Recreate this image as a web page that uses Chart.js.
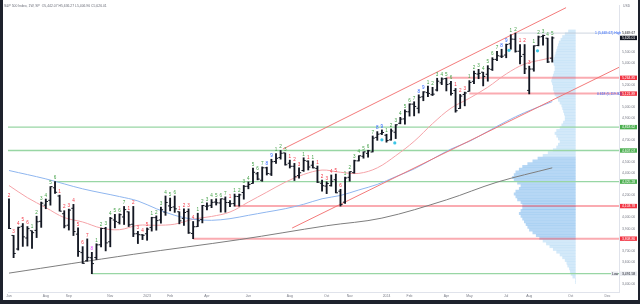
<!DOCTYPE html>
<html>
<head>
<meta charset="utf-8">
<script src="https://cdn.jsdelivr.net/npm/chart.js@4.4.1/dist/chart.umd.min.js"></script>
<style>
  html, body { margin: 0; padding: 0; width: 640px; height: 304px; overflow: hidden; background: #1e222d; }
  #wrap { position: absolute; left: 3px; top: 0; width: 635px; height: 300px; background: #fff; }
</style>
</head>
<body>
<div id="wrap"><canvas id="chart"></canvas></div>
<script>
// weekly S&P 500 bars, Jun 6 2022 .. Sep 9 2024 (index = week number)
const opens = [4134.7,3838.2,3715.3,3920.8,3815.0,3880.9,3883.8,3965.7,4112.4,4155.9,4269.4,4195.1,4034.6,3930.9,4083.7,3849.9,3682.7,3609.8,3636.0,3638.7,3753.3,3901.8,3780.7,3977.9,3956.2,4005.4,4052.0,3939.3,3853.8,3843.3,
  3853.3,3910.8,3999.3,3978.1,4049.3,4105.4,4096.6,4052.4,3992.4,4055.2,3856.0,3917.5,3982.9,4102.2,4110.3,4140.0,4132.1,4166.8,4136.0,4126.7,4190.8,4226.7,4283.0,4308.3,4396.1,4337.4,4450.5,4394.2,4507.5,4543.4,4584.8,4491.6,4464.1,4380.3,4426.0,4510.1,4473.5,4445.1,4310.6,4284.5,4289.0,4342.4,4238.7,4139.4,4364.3,4406.7,4513.0,4554.9,4580.9,4593.4,4725.6,4758.9,
  4745.2,4703.7,4772.4,4853.4,4893.0,4957.2,5026.8,4989.3,5093.0,5130.9,5112.0,5154.8,5219.5,5258.0,5211.4,5149.7,4987.3,5114.1,5142.4,5233.1,5298.7,5315.9,5297.2,5341.2,5432.0,5460.7,5471.1,5572.9,5614.1,5505.8,5476.6,5151.1,5344.4,5557.2,5637.8,5623.9,5442.1];
const highs = [4168.8,3838.2,3913.7,3945.9,3918.5,3880.9,4012.4,4140.2,4167.7,4280.5,4325.3,4203.0,4062.0,4076.8,4119.3,3907.1,3736.7,3806.9,3685.4,3762.8,3905.4,3911.8,4001.5,4028.8,4034.0,4100.5,4052.5,4100.9,3875.0,3846.7,
  3906.0,4003.0,4015.4,4094.2,4195.4,4176.5,4195.4,4052.4,4078.5,4078.5,3964.5,4039.5,4110.8,4133.1,4163.2,4169.5,4170.1,4186.9,4154.3,4212.9,4212.9,4290.7,4322.6,4448.5,4409.6,4458.5,4456.5,4527.8,4578.4,4607.1,4584.8,4519.8,4490.3,4449.7,4541.3,4514.3,4512.0,4466.4,4338.5,4324.1,4385.5,4393.6,4255.8,4366.2,4415.6,4520.1,4560.0,4595.1,4609.2,4738.6,4778.0,4793.3,
  4754.3,4802.4,4842.1,4907.0,4975.3,5030.1,5048.4,5111.1,5140.3,5189.3,5179.1,5261.1,5264.9,5263.0,5233.2,5168.4,5114.6,5135.9,5239.7,5325.5,5341.9,5315.9,5375.1,5447.3,5505.5,5523.6,5570.3,5655.6,5669.7,5566.2,5566.2,5370.9,5555.8,5643.2,5651.6,5623.9,5636.3];
const lows = [3900.2,3636.9,3705.7,3738.7,3742.1,3721.6,3818.6,3911.0,4079.8,4112.1,4218.7,4057.7,3906.2,3886.7,3837.1,3647.5,3584.1,3604.9,3491.6,3620.0,3735.0,3698.2,3735.0,3906.5,3940.9,3937.2,3918.4,3827.4,3764.5,3800.3,
  3794.3,3877.3,3885.5,3949.1,4020.0,4060.8,4047.0,3943.1,3928.2,3855.8,3808.9,3917.5,3951.5,4069.8,4089.7,4113.2,4049.3,4048.3,4098.9,4103.0,4103.0,4166.2,4260.2,4308.3,4341.0,4328.1,4385.1,4380.0,4491.0,4528.6,4474.1,4448.4,4335.3,4356.3,4417.7,4430.5,4448.2,4316.5,4238.6,4216.5,4283.8,4223.0,4103.8,4127.9,4329.2,4401.4,4511.8,4537.2,4546.5,4593.4,4699.0,4751.0,
  4682.1,4699.8,4714.8,4848.4,4845.2,4918.1,4920.3,4946.0,5057.3,5094.4,5104.4,5145.6,5203.4,5146.1,5107.9,4953.6,4987.3,5011.1,5142.4,5211.2,5256.9,5191.7,5234.3,5331.3,5420.5,5447.3,5446.4,5523.6,5497.0,5391.0,5302.4,5119.3,5324.6,5554.3,5560.9,5402.6,5407.0];
const closes = [3900.9,3674.8,3911.7,3825.3,3899.4,3863.2,3961.6,4130.3,4145.2,4280.2,4228.5,4057.7,3924.3,4067.4,3873.3,3693.2,3585.6,3639.7,3583.1,3752.8,3901.1,3770.6,3992.9,3965.3,4026.1,4071.7,3934.4,3852.4,3844.8,3839.5,
  3895.1,3999.1,3972.6,4070.6,4136.5,4090.5,4079.1,3970.0,4045.6,3861.6,3916.6,3970.9,4109.3,4105.0,4137.6,4133.5,4169.5,4136.3,4124.1,4191.9,4205.5,4282.4,4298.9,4409.6,4348.3,4450.4,4399.0,4505.4,4536.3,4582.2,4478.0,4464.1,4369.7,4405.7,4515.8,4457.5,4450.3,4320.1,4288.1,4308.5,4327.8,4224.2,4117.4,4358.3,4415.2,4514.0,4559.3,4594.6,4604.4,4719.2,4754.6,4769.8,
  4697.2,4783.8,4839.8,4891.0,4958.6,5026.6,5005.6,5088.8,5137.1,5123.7,5117.1,5234.2,5254.4,5204.3,5123.4,4967.2,5100.0,5127.8,5222.7,5303.3,5304.7,5277.5,5347.0,5431.6,5464.6,5460.5,5567.2,5615.4,5505.0,5459.1,5346.6,5344.2,5554.3,5634.6,5648.4,5408.4,5626.0];

// setup counts printed above each bar (+ sell setup, - buy setup)
const tdCount = [-2,-3,-4,-5,-6,1,2,3,4,5, 6,-1,-2,-3,-4,-5,-6,-7,-8,1, 2,3,4,5,6,7,-1,-2,-3,-4,
  -5,1,2,3,4,5,6,-1,-2,-3, -4,1,2,3,4,5,6,7,-1,1, 2,3,4,5,6,7,8,9,1,2, 3,-1,-2,-3,1,-1,1,-1,-2,-3,
  -4,-5,-6,1,2,3,4,5,6,7, 8,9,1,2,3,4,5,6,7,8, 9,1,2,3,4,5,6,-1,-2,-3, 1,2,3,4,5,6,7,8,9,1, 2,-1,-2,-3,1,2,3,4,5];

// moving averages at sample weeks
const maRedIdx  = [0,4,8,12,16,20,24,28,32,36,40,44,48,52,56,60,64,68,72,76,80,84,88,92,96,100,104,108,112,116,118];
const maRedVal  = [4290,4180,4090,4000,3960,3905,3890,3930,3930,3940,3985,4010,4050,4140,4230,4320,4390,4430,4410,4400,4450,4560,4690,4850,4990,5080,5180,5300,5390,5430,5450];
const maBlueIdx = [0,8,16,24,28,32,36,40,44,48,52,56,60,64,68,72,76,80,84,88,92,96,100,104,108,112,118];
const maBlueVal = [4426,4350,4260,4190,4150,4080,4020,3985,3975,3990,4020,4050,4080,4120,4170,4200,4250,4300,4370,4440,4530,4620,4690,4780,4870,4950,5050];
const maGrayIdx = [0,27,50,69,81,95,106,118];
const maGrayVal = [3497,3667,3800,3926,3995,4160,4320,4450];

// channel lines: [startIdx, startPrice, endIdx, endPrice]
const channelUpper = [59.5, 4620, 121, 5900];
const channelLower = [61.5, 3905, 132.5, 5360];

// horizontal levels: price, first week, kind
const levelPrices = [4818.62, 4607.07, 4325.28, 3491.58, 5264.85, 5121.89, 4103.78, 3808.86];
const levelStart  = [-1, -1, 10, 18, 95, 100, 49, 40];
const levelKind   = ['g','g','g','g','r','r','r','r'];
const athPrice = 5669.67, athStart = 110;

// TD markers (dots)
const dotIdx = [81, 83.8, 108.6, 114.8];
const dotVal = [4704, 4676, 5514, 5509];

// x-axis ticks
const tickIdx    = [0,8,13,22,30,35,43,52,61,69,74,82,87,95,100,108,113,122,130];
const tickLabels = ['Jun','Aug','Sep','Nov','2023','Feb','Apr','Jun','Aug','Oct','Nov','2024','Feb','Apr','May','Jul','Aug','Oct','Dec'];
const yTicks = [3400,3500,3600,3700,3800,3900,4000,4100,4200,4300,4400,4500,4600,4700,4800,4900,5000,5100,5200,5300,5400,5500,5600,5700];

// price tags on the right axis
const tagPrices = [5669.67, 5626.01, 5264.85, 5121.89, 4818.62, 4607.07, 4325.28, 4103.78, 3808.86, 3491.58];
const tagKinds  = ['plain','black','r','r','g','g','g','r','r','low'];

// volume profile (25-point rows from 3400 up)
const vpVolume = [0,0,3,5, 6,7,9,10, 12,15,18,22, 26,30,34,38, 42,46,50,54, 56,58,60,62, 64,66,64,62, 62,64,68,70,
  72,70,66,64, 68,72,74,72, 70,66,62,56, 50,44,38,32, 26,22,20,18, 20,22,24,22, 18,16,14,12, 12,13,14,15, 16,18,20,22,
  24,25,26,26, 27,28,27,26, 25,24,24,25, 26,25,24,23, 22,21,20,19, 17,15,12,8];
const vpPrice = vpVolume.map((v, i) => 3412.5 + i * 25);

const title = 'S&P 500 Index, 1W, SP  O5,442.07 H5,636.27 L5,406.96 C5,626.01';

const FONT = '"Liberation Sans", Arial, sans-serif';
const INK = '#131722';
const colors = { g: '#98d6a4', r: 'rgba(242,54,69,0.42)' };
const tagBg = { r: '#f23645', g: '#4caf50', black: '#131722', plain: '#ffffff', low: '#e9ebf0' };
const tagFg = { r: '#fff', g: '#fff', black: '#fff', plain: '#131722', low: '#131722' };

const X_MIN = -0.215, X_MAX = 132.5;
const Y_MIN = 3380.2, Y_MAX = 5869.6;

const pts = (xs, ys) => xs.map((x, i) => ({ x, y: ys[i] }));
const lineDs = (data, color, width, order, extra) => Object.assign({
  type: 'line', data, borderColor: color, borderWidth: width, pointRadius: 0,
  fill: false, tension: 0.35, order, xAxisID: 'x', yAxisID: 'y'
}, extra || {});

const datasets = [];
// volume profile
datasets.push({
  type: 'bar', indexAxis: 'y', xAxisID: 'vp', yAxisID: 'y', grouped: false,
  data: pts(vpVolume, vpPrice),
  backgroundColor: vpPrice.map(p => (p > 3800 && p < 4560) ? 'rgba(110,175,235,0.5)' : 'rgba(140,196,240,0.38)'),
  barThickness: 2.4, order: 20
});
// levels
levelPrices.forEach((p, i) => {
  const start = levelStart[i] < 0 ? X_MIN : levelStart[i];
  datasets.push(lineDs([{ x: start, y: p }, { x: X_MAX, y: p }], colors[levelKind[i]],
    levelKind[i] === 'g' ? 1.3 : 2, 12, { tension: 0 }));
});
datasets.push(lineDs([{ x: athStart, y: athPrice }, { x: X_MAX, y: athPrice }], '#c3cad8', 0.8, 12, { tension: 0 }));
// channel
[channelUpper, channelLower].forEach(c => {
  datasets.push(lineDs([{ x: c[0], y: c[1] }, { x: c[2], y: c[3] }], '#f26b6b', 0.9, 8, { tension: 0 }));
});
// moving averages
datasets.push(lineDs(pts(maGrayIdx, maGrayVal), '#7e7e7e', 1, 9));
datasets.push(lineDs(pts(maBlueIdx, maBlueVal), '#8fb6ef', 1, 9));
datasets.push(lineDs(pts(maRedIdx, maRedVal), '#f5a3a8', 1, 9));
// OHLC: high-low range
datasets.push({
  type: 'bar', xAxisID: 'x', yAxisID: 'y', grouped: false,
  data: highs.map((h, i) => ({ x: i, y: [lows[i], h] })),
  backgroundColor: INK, barThickness: 1.2, order: 2
});
// open / close ticks
const tickOpts = { showLine: false, pointRadius: 0.9, pointStyle: 'line', pointBorderWidth: 1, pointBorderColor: INK };
datasets.push(lineDs(opens.map((o, i) => ({ x: i - 0.27, y: o })), INK, 0, 1, tickOpts));
datasets.push(lineDs(closes.map((c, i) => ({ x: i + 0.27, y: c })), INK, 0, 1, tickOpts));
// dots
datasets.push(lineDs(pts(dotIdx, dotVal), '#3cc6e6', 0, 0,
  { showLine: false, pointRadius: 1.6, pointBackgroundColor: '#3cc6e6', pointBorderWidth: 0 }));

const hiddenTicks = v => tagPrices.some(t => Math.abs(t - v) < 40);
const tdColor = n => n >= 8 ? '#2962ff' : n > 0 ? '#43a047' : n <= -8 ? '#e040fb' : '#f23645';

const overlay = {
  id: 'overlay',
  afterDatasetsDraw(chart) {
    const { ctx, scales: { x, y } } = chart;
    ctx.save();
    ctx.font = '4.6px ' + FONT;
    ctx.textAlign = 'center';
    ctx.textBaseline = 'bottom';
    tdCount.forEach((n, i) => {
      ctx.fillStyle = tdColor(n);
      ctx.fillText(String(Math.abs(n)), x.getPixelForValue(i), y.getPixelForValue(highs[i]) - 1.2);
    });
    ctx.restore();
  },
  afterDraw(chart) {
    const { ctx, chartArea, scales: { y } } = chart;
    ctx.save();
    ctx.font = '3.4px ' + FONT;
    ctx.textBaseline = 'middle';
    ctx.fillStyle = '#6a6d78';
    ctx.fillText(title, 1, 6);
    ctx.fillStyle = '#787b86';
    ctx.fillText('USD', chartArea.right + 4, 6);
    tagPrices.forEach((p, i) => {
      const k = tagKinds[i];
      const py = y.getPixelForValue(p);
      ctx.fillStyle = tagBg[k];
      ctx.fillRect(chartArea.right + 1, py - 2.2, 17, 4.4);
      ctx.fillStyle = tagFg[k];
      ctx.fillText(p.toLocaleString('en-US', { minimumFractionDigits: 2 }), chartArea.right + 3, py + 0.2);
      if (k === 'low') {
        ctx.fillStyle = '#e9ebf0';
        ctx.fillRect(chartArea.right - 8, py - 2.2, 7, 4.4);
        ctx.fillStyle = '#131722';
        ctx.fillText('Low', chartArea.right - 7, py + 0.2);
      }
    });
    ctx.fillStyle = '#2962ff';
    ctx.fillText('1 (5,669.67) High', chartArea.right - 24, y.getPixelForValue(athPrice));
    ctx.fillText('0.618 (5,119.30)', chartArea.right - 22, y.getPixelForValue(5121.89));
    ctx.restore();
  }
};

new Chart(document.getElementById('chart'), {
  type: 'bar',
  data: { datasets },
  options: {
    responsive: true, maintainAspectRatio: false, animation: false,
    layout: { padding: 0 },
    plugins: { legend: { display: false }, tooltip: { enabled: false } },
    scales: {
      x: {
        type: 'linear', min: X_MIN, max: X_MAX, offset: false,
        grid: { display: false, drawTicks: false },
        border: { color: '#e0e3eb' },
        afterBuildTicks: s => { s.ticks = tickIdx.map(v => ({ value: v })); },
        afterFit: s => { s.height = 8; },
        ticks: {
          autoSkip: false, maxRotation: 0, padding: 2, color: '#787b86',
          font: { size: 3.4, family: FONT },
          callback: v => tickLabels[tickIdx.indexOf(v)]
        }
      },
      y: {
        type: 'linear', position: 'right', min: Y_MIN, max: Y_MAX,
        grid: { display: false, drawTicks: false },
        border: { color: '#e0e3eb' },
        afterBuildTicks: s => { s.ticks = yTicks.map(v => ({ value: v })); },
        afterFit: s => { s.width = 19; },
        ticks: {
          padding: 3, color: '#787b86', font: { size: 3.4, family: FONT },
          callback: v => hiddenTicks(v) ? '' : v.toLocaleString('en-US', { minimumFractionDigits: 2 })
        }
      },
      vp: { type: 'linear', display: false, reverse: true, min: 0, max: 616 }
    }
  },
  plugins: [overlay]
});
</script>
</body>
</html>
